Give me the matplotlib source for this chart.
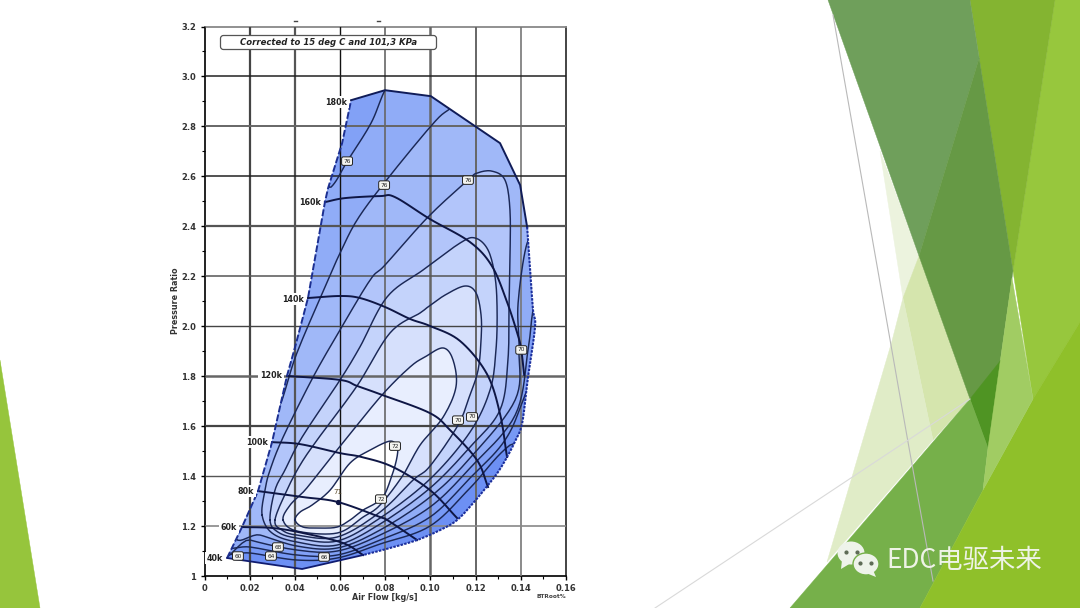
import numpy as np
import matplotlib
matplotlib.use("Agg")
import matplotlib.pyplot as plt
from matplotlib.patches import Polygon, Ellipse, FancyBboxPatch

# ---- chart data (air flow kg/s, pressure ratio) ----
surge_x = [.0100,.0166,.0237,.0299,.0365,.0401,.0458,.0533,.0547,.0609,.0649]
surge_y = [1.072,1.196,1.340,1.536,1.801,1.917,2.113,2.497,2.553,2.733,2.905]
top_x = [.0649,.0799,.1002,.1308,.1397,.1428]
top_y = [2.905,2.945,2.921,2.733,2.565,2.397]
choke_x = [.1428,.1441,.1454,.1463,.1432,.1406,.1375,.1339,.1299,.1255,.1189,.1118,.1043,.0941,.0821,.0702]
choke_y = [2.397,2.225,2.065,1.997,1.797,1.612,1.540,1.476,1.416,1.364,1.292,1.224,1.184,1.144,1.112,1.084]
floor_x = [.0702,.0432,.0100]
floor_y = [1.084,1.028,1.072]

eff_core_x = [.0401,.0423,.0476,.0556,.0644,.0733,.0821,.0852,.0852,.0830,.0786,.0702,.0644,.0587,.0511,.0436]
eff_core_y = [1.224,1.256,1.284,1.344,1.452,1.504,1.540,1.516,1.476,1.404,1.312,1.264,1.224,1.196,1.192,1.196]
eff_5_x = [.0348,.0379,.0445,.0533,.0622,.0786,.0910,.0976,.1056,.1100,.1113,.1056,.0954,.0879,.0777,.0702,.0587,.0409]
eff_5_y = [1.224,1.284,1.344,1.444,1.544,1.725,1.837,1.877,1.913,1.865,1.757,1.636,1.524,1.404,1.284,1.236,1.172,1.180]
eff_4_x = [.0312,.0365,.0423,.0498,.0675,.0821,.0954,.0989,.1065,.1153,.1202,.1224,.1224,.1211,.1175,.1122,.0998,.0923,.0777,.0587,.0409,.0343]
eff_4_y = [1.224,1.344,1.444,1.544,1.761,1.973,2.053,2.077,2.125,2.161,2.133,2.045,1.945,1.825,1.725,1.604,1.440,1.384,1.256,1.156,1.164,1.184]
eff_3_x = [.0290,.0312,.0356,.0432,.0600,.0688,.0808,.0967,.1131,.1198,.1255,.1286,.1295,.1290,.1264,.1175,.0998,.0777,.0587,.0409,.0325]
eff_3_y = [1.224,1.344,1.424,1.556,1.785,1.917,2.117,2.225,2.333,2.353,2.305,2.197,2.065,1.905,1.745,1.576,1.388,1.232,1.140,1.152,1.176]
eff_2_x = [.0255,.0268,.0290,.0348,.0481,.0600,.0733,.0799,.0989,.1166,.1206,.1272,.1330,.1352,.1352,.1348,.1343,.1308,.1175,.0998,.0777,.0587,.0409,.0299]
eff_2_y = [1.244,1.344,1.424,1.556,1.797,1.985,2.185,2.245,2.437,2.585,2.613,2.621,2.585,2.465,2.265,2.093,1.865,1.665,1.516,1.352,1.208,1.124,1.136,1.172]
eff_1_x = [.0290,.0334,.0409,.0547,.0600,.0675,.0795,.0998,.1078,.1175,.1485,.1485,.1428,.1388,.1392,.1375,.1175,.0998,.0777,.0587,.0409,.0246,.0135]
eff_1_y = [1.685,1.685,1.893,2.185,2.293,2.425,2.573,2.797,2.865,2.905,2.625,2.369,2.333,2.093,1.905,1.705,1.472,1.316,1.184,1.112,1.120,1.164,1.184]
eff_0_x = [.0799,.0737,.0635,.0560,.0471,.0091,.0202,.0409,.0587,.0777,.0998,.1175,.1375,.1432,.1454,.1512,.1445,.0866]
eff_0_y = [2.945,2.813,2.665,2.557,2.525,1.184,1.144,1.104,1.100,1.164,1.276,1.432,1.644,1.905,2.065,2.345,2.785,3.025]
eff_b_x = [.0069,.0202,.0409,.0587,.0777,.0998,.1175,.1330,.1419,.1574,.1574,.0403,.0047]
eff_b_y = [1.124,1.116,1.084,1.084,1.144,1.236,1.392,1.544,1.725,2.105,3.025,3.025,1.304]
eff_c_x = [.0078,.0202,.0409,.0587,.0777,.0998,.1175,.1352,.1574,.1618,-.0020,.0002]
eff_c_y = [1.096,1.092,1.064,1.072,1.128,1.200,1.352,1.524,1.624,3.025,3.025,1.224]

speed_160_x = [.0533,.0622,.0777,.0843,.0998,.1175,.1272,.1339,.1388,.1402,.1415]
speed_160_y = [2.497,2.513,2.521,2.517,2.429,2.337,2.241,2.097,1.961,1.905,1.805]
speed_140_x = [.0458,.0600,.0688,.0799,.0910,.0998,.1131,.1250,.1308,.1339]
speed_140_y = [2.113,2.121,2.113,2.077,2.029,2.001,1.941,1.809,1.649,1.476]
speed_120_x = [.0365,.0600,.0675,.0786,.0998,.1087,.1206,.1255]
speed_120_y = [1.801,1.785,1.761,1.725,1.652,1.584,1.464,1.356]
speed_100_x = [.0299,.0423,.0600,.0697,.0835,.0998,.1118]
speed_100_y = [1.536,1.528,1.492,1.476,1.436,1.344,1.232]
speed_80_x = [.0237,.0436,.0591,.0777,.0809,.0941]
speed_80_y = [1.340,1.316,1.296,1.236,1.224,1.144]
speed_60_x = [.0166,.0303,.0436,.0613,.0702]
speed_60_y = [1.196,1.192,1.172,1.132,1.084]

speed_labels = ["180k","160k","140k","120k","100k","80k","60k","40k"]
speed_label_x = [.0583,.0466,.0390,.0294,.0233,.0184,.0108,.0047]
speed_label_y = [2.897,2.497,2.109,1.801,1.536,1.340,1.196,1.072]

tag_x = [.0631,.0795,.1166,.1402,.1122,.1184,.0843,.0781,.0148,.0325,.0294,.0529]
tag_y = [2.661,2.565,2.585,1.905,1.624,1.637,1.520,1.308,1.080,1.116,1.080,1.076]
tag_text = ["76","76","76","70","70","70","72","72","60","68","64","66"]
peak_x, peak_y, peak_text = [.0591], [1.296], ["71"]

x_ticks = [0,.02,.04,.06,.08,.10,.12,.14,.16]
x_tick_labels = ["0","0.02","0.04","0.06","0.08","0.10","0.12","0.14","0.16"]
y_ticks = [1,1.2,1.4,1.6,1.8,2.0,2.2,2.4,2.6,2.8,3.0,3.2]
y_tick_labels = ["1","1.2","1.4","1.6","1.8","2.0","2.2","2.4","2.6","2.8","3.0","3.2"]

plt.rcParams['font.family'] = ['DejaVu Sans']
fig = plt.figure(figsize=(10.8, 6.08), dpi=100)
W, H = 1080, 608

def pix_axes(z):
    a = fig.add_axes([0, 0, 1, 1], zorder=z)
    a.set_xlim(0, W); a.set_ylim(H, 0); a.axis('off'); a.patch.set_alpha(0)
    return a

# ---- slide decoration, pixel coordinates ----
bg = pix_axes(0)
shapes = [
    ([(0,360),(40,608),(0,608)], '#96c53c'),
    ([(880,151),(919,256),(903,298)], '#ecf3de'),
    ([(919,256),(970,399),(933,440),(903,298)], '#d5e5ad'),
    ([(892,341),(903,298),(933,440),(827,562)], '#e0ecc7'),
    ([(1055,0),(1080,0),(1080,322),(1033,399),(1013,271)], '#97c73d'),
    ([(970,0),(1055,0),(1013,271)], '#84b431'),
    ([(828,0),(970,0),(979.2,58),(919,256)], '#6f9f5b'),
    ([(979.2,58),(1013,271),(988,448),(970,399),(919,256)], '#669945'),
    ([(970,399),(1001,360),(988,448)], '#4f9423'),
    ([(970,399),(988,448),(983,490),(920,608),(790,608)], '#76b04a'),
    ([(1080,322),(1033,399),(983,490),(920,608),(1080,608)], '#8fc02a'),
    ([(1012,278),(1033,399),(983,490),(988,448)], '#a1cc63'),
]
for pts, c in shapes:
    bg.add_patch(Polygon(pts, closed=True, fc=c, ec=c, lw=.3))
bg.plot([833,908,933],[15,442,581], color='#b9b9b9', lw=0.8)
bg.plot([655,970],[608,399], color='#d9d9d9', lw=0.8)

# ---- compressor map ----
ax = fig.add_axes([204.5/W, (H-576)/H, 361.5/W, 549.5/H], zorder=1)
ax.set_xlim(0, .16); ax.set_ylim(1, 3.2)

def smooth(x, y, n=10):
    p = np.column_stack([x, y]); m = len(p); out = []
    for i in range(m):
        a, b, c, d = p[(i-1) % m], p[i], p[(i+1) % m], p[(i+2) % m]
        for t in np.linspace(0, 1, n, endpoint=False):
            out.append(.5*((2*b)+(c-a)*t+(2*a-5*b+4*c-d)*t*t+(3*b-a-3*c+d)*t**3))
    out.append(out[0])
    return np.array(out)

def smooth_open(x, y, n=10):
    p = np.column_stack([x, y]); p = np.vstack([2*p[0]-p[1], p, 2*p[-1]-p[-2]]); out = []
    for i in range(1, len(p)-2):
        a, b, c, d = p[i-1], p[i], p[i+1], p[i+2]
        for t in np.linspace(0, 1, n, endpoint=False):
            out.append(.5*((2*b)+(c-a)*t+(2*a-5*b+4*c-d)*t*t+(3*b-a-3*c+d)*t**3))
    out.append(p[-2])
    return np.array(out)

choke_s = smooth_open(choke_x, choke_y)
outline = np.vstack([np.column_stack([surge_x, surge_y]),
                     np.column_stack([top_x[1:], top_y[1:]]),
                     choke_s[1:],
                     np.column_stack([floor_x[1:-1], floor_y[1:-1]])])
base = Polygon(outline, closed=True, fc='#6d90f4', ec='none', zorder=1)
ax.add_patch(base)

loops = [(eff_c_x,eff_c_y,'#7799f5'),(eff_b_x,eff_b_y,'#82a1f6'),(eff_0_x,eff_0_y,'#90acf7'),
         (eff_1_x,eff_1_y,'#a0b8f8'),(eff_2_x,eff_2_y,'#b2c5fa'),(eff_3_x,eff_3_y,'#c4d3fb'),
         (eff_4_x,eff_4_y,'#d6e0fc'),(eff_5_x,eff_5_y,'#e8eefe'),(eff_core_x,eff_core_y,'#ffffff')]
for lx, ly, c in loops:
    s = smooth(lx, ly)
    f = ax.fill(s[:,0], s[:,1], fc=c, ec='none', zorder=1.2)[0]
    f.set_clip_path(base)
    l, = ax.plot(s[:,0], s[:,1], color='#1b2856', lw=1.05, zorder=3)
    l.set_clip_path(base)

for sx, sy in [(speed_160_x,speed_160_y),(speed_140_x,speed_140_y),(speed_120_x,speed_120_y),
               (speed_100_x,speed_100_y),(speed_80_x,speed_80_y),(speed_60_x,speed_60_y)]:
    s = smooth_open(sx, sy)
    ax.plot(s[:,0], s[:,1], color='#0e1645', lw=1.4, zorder=3.2)

ax.plot(surge_x, surge_y, color='#1c2f90', lw=1.4, ls=(0,(3.5,1.2)), zorder=3.4)
ax.plot(top_x, top_y, color='#101c58', lw=1.4, zorder=3.4)
ax.plot(choke_s[:,0], choke_s[:,1], color='#1c2f9c', lw=1.5, ls=(0,(1.2,0.6)), zorder=3.4)
ax.plot(floor_x, floor_y, color='#101c70', lw=1.3, zorder=3.4)

ax.set_xticks(x_ticks, x_tick_labels); ax.set_yticks(y_ticks, y_tick_labels)
ax.set_xticks(np.arange(1, 16, 2)/100, minor=True)
ax.set_yticks(np.arange(11, 32, 2)/10, minor=True)
ax.tick_params(which='major', length=3, width=1, pad=3, labelsize=6, labelcolor='#333333')
ax.tick_params(which='minor', length=2, width=.8)
for t in ax.get_xticklabels()+ax.get_yticklabels():
    t.set_fontweight('bold')
ax.set_axisbelow(False)
ax.grid(True, which='major')
x_grid_style = [('#000',0),('#444',1.6),('#555',1.6),('#111',1.0),('#666',1.2),('#666',1.8),('#666',1.4),('#777',1.2),('#000',0)]
y_grid_style = [('#000',0),('#888',1.2),('#555',1.0),('#444',1.6),('#666',1.8),('#444',1.0),('#555',1.1),('#555',1.6),('#222',1.1),('#666',1.4),('#222',1.1),('#000',0)]
for g, (c, w) in zip(ax.get_xgridlines(), x_grid_style):
    g.set_color(c); g.set_linewidth(w)
for g, (c, w) in zip(ax.get_ygridlines(), y_grid_style):
    g.set_color(c); g.set_linewidth(w)
for name, c, w in [('left','#111',1.3),('bottom','#111',1.3),('right','#111',1.1),('top','#888',1.3)]:
    ax.spines[name].set_color(c); ax.spines[name].set_linewidth(w)

ax.set_xlabel('Air Flow [kg/s]', fontsize=5.8, fontweight='bold', color='#333', labelpad=0)
ax.set_ylabel('Pressure Ratio', fontsize=5.8, fontweight='bold', color='#333', labelpad=1)

for tx, ty, s in zip(speed_label_x, speed_label_y, speed_labels):
    ax.text(tx, ty, s, fontsize=5.8, fontweight='bold', color='#222', ha='center', va='center', zorder=4,
            bbox=dict(fc='white', ec='none', pad=1.2))
for tx, ty, s in zip(tag_x, tag_y, tag_text):
    ax.text(tx, ty, s, fontsize=4.2, color='#222', ha='center', va='center', zorder=5,
            bbox=dict(boxstyle='round,pad=0.3', fc='#f4f4f0', ec='#222', lw=.7))
ax.plot(peak_x, peak_y, 'o', ms=2.8, color='#0e1645', zorder=5)
ax.text(peak_x[0], peak_y[0]+.03, peak_text[0], fontsize=5, color='#5a4a2a', ha='center', va='bottom', zorder=5)
ax.text(.1600, .918, 'BTRoot%', fontsize=4.2, fontweight='bold', color='#444', ha='right', va='center', clip_on=False)

# ---- overlay: note box, specks, logo ----
ov = pix_axes(2)
ov.add_patch(FancyBboxPatch((222,37), 213, 11, boxstyle='round,pad=1.5,rounding_size=3', fc='white', ec='#555', lw=.9))
ov.text(328.5, 42.5, 'Corrected to 15 deg C and 101,3 KPa', fontsize=6.1, fontweight='bold', style='italic',
        color='#222', ha='center', va='center')
ov.plot([294,297],[21,21], color='#444', lw=1); ov.plot([377,380],[21,21], color='#444', lw=1)

bubble = '#eef3ea'
ov.add_patch(Ellipse((851,553), 27, 23, fc=bubble, ec='none'))
ov.add_patch(Polygon([(842,560),(841,569),(851,563)], fc=bubble, ec='none'))
ov.add_patch(Ellipse((866,564), 26, 22, fc=bubble, ec='#76b04a', lw=1))
ov.add_patch(Polygon([(873,570),(876,577),(866,573)], fc=bubble, ec='none'))
ov.plot([846,857,860,871],[552,552,563,563], 'o', ms=2, color='#5d6b55')
ov.text(886, 560, 'EDC电驱未来', fontsize=19, color='#eef3e6', ha='left', va='center',
        family=['Noto Sans CJK SC','DejaVu Sans'])

fig.savefig('out.png', dpi=100)
